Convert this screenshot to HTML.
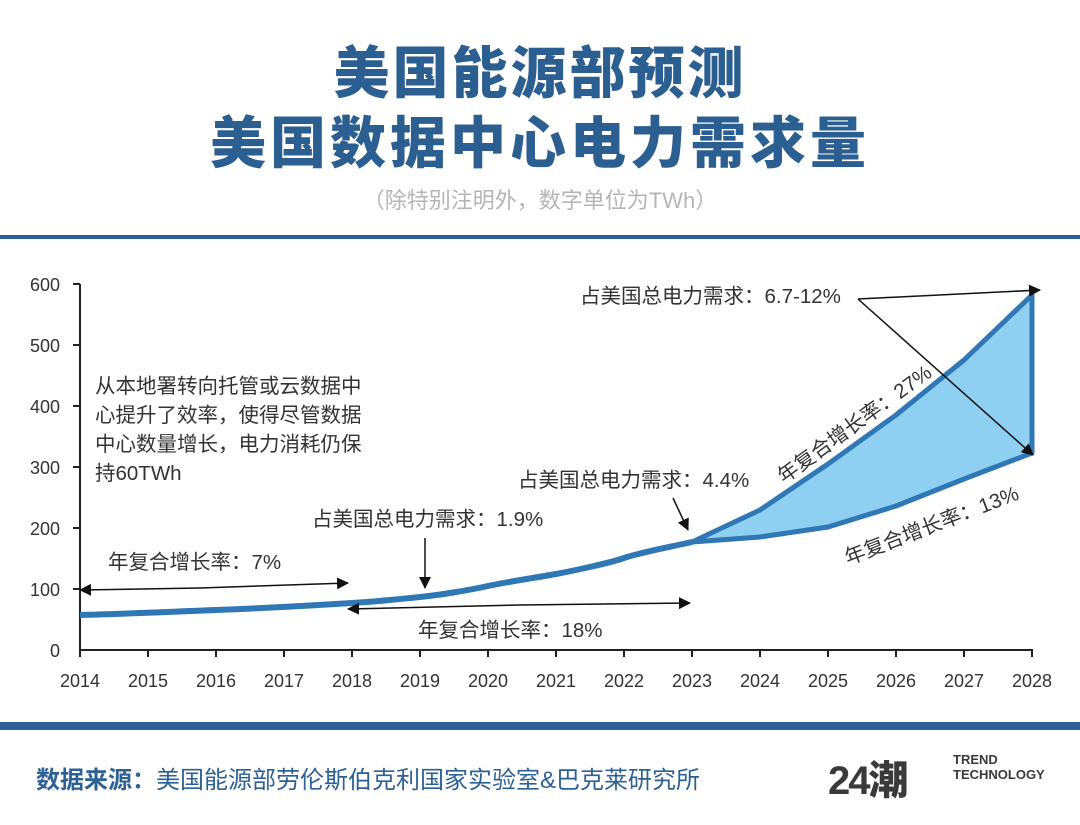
<!DOCTYPE html>
<html><head><meta charset="utf-8"><style>
body{margin:0;width:1080px;height:825px;background:#fff;font-family:"Liberation Sans","Noto Sans CJK SC",sans-serif;overflow:hidden;position:relative}
.t{position:absolute;left:0;width:1080px;text-align:center;color:#2c5f91;font-weight:900;line-height:1}
</style></head><body>
<div class="t" style="top:46px;font-size:56px;letter-spacing:3px">美国能源部预测</div>
<div class="t" style="top:116px;font-size:56px;letter-spacing:4px">美国数据中心电力需求量</div>
<div style="position:absolute;top:183px;left:0;width:1080px;text-align:center;color:#b5b5b5;font-size:22px">（除特别注明外，数字单位为TWh）</div>
<div style="position:absolute;top:235px;left:0;width:1080px;height:4px;background:#2d6196"></div>
<svg width="1080" height="825" style="position:absolute;left:0;top:0" font-family="Liberation Sans, Noto Sans CJK SC, sans-serif">
<defs><marker id="a" markerWidth="12" markerHeight="12" refX="11" refY="6" orient="auto" markerUnits="userSpaceOnUse" viewBox="0 0 12 12"><path d="M0,0L12,6L0,12z" fill="#111"/></marker></defs>
<g stroke="#222" stroke-width="2">
<line x1="80" y1="284" x2="80" y2="651"/><line x1="79" y1="650" x2="1033" y2="650"/>
<line x1="73" y1="284" x2="80" y2="284"/><line x1="73" y1="345" x2="80" y2="345"/><line x1="73" y1="406" x2="80" y2="406"/><line x1="73" y1="467" x2="80" y2="467"/><line x1="73" y1="528" x2="80" y2="528"/><line x1="73" y1="589" x2="80" y2="589"/>
</g>
<g stroke="#222" stroke-width="2">
<line x1="80" y1="650" x2="80" y2="657"/><line x1="148" y1="650" x2="148" y2="657"/><line x1="216" y1="650" x2="216" y2="657"/><line x1="284" y1="650" x2="284" y2="657"/><line x1="352" y1="650" x2="352" y2="657"/><line x1="420" y1="650" x2="420" y2="657"/><line x1="488" y1="650" x2="488" y2="657"/><line x1="556" y1="650" x2="556" y2="657"/><line x1="624" y1="650" x2="624" y2="657"/><line x1="692" y1="650" x2="692" y2="657"/><line x1="760" y1="650" x2="760" y2="657"/><line x1="828" y1="650" x2="828" y2="657"/><line x1="896" y1="650" x2="896" y2="657"/><line x1="964" y1="650" x2="964" y2="657"/><line x1="1032" y1="650" x2="1032" y2="657"/>
</g>
<g font-size="18" fill="#333" text-anchor="end">
<text x="60" y="291">600</text><text x="60" y="352">500</text><text x="60" y="413">400</text><text x="60" y="474">300</text><text x="60" y="535">200</text><text x="60" y="596">100</text><text x="60" y="657">0</text>
</g>
<g font-size="18" fill="#333" text-anchor="middle">
<text x="80" y="687">2014</text><text x="148" y="687">2015</text><text x="216" y="687">2016</text><text x="284" y="687">2017</text><text x="352" y="687">2018</text><text x="420" y="687">2019</text><text x="488" y="687">2020</text><text x="556" y="687">2021</text><text x="624" y="687">2022</text><text x="692" y="687">2023</text><text x="760" y="687">2024</text><text x="828" y="687">2025</text><text x="896" y="687">2026</text><text x="964" y="687">2027</text><text x="1032" y="687">2028</text>
</g>
<path d="M692,542 L760,510 L828,464 L896,415 L964,360 L1032,295 L1032,453 L964,479 L896,506 L828,527 L760,537 Z" fill="#8fd0f2" stroke="#2f78b5" stroke-width="5" stroke-linejoin="round"/>
<path d="M80,615 C120,614 140,613 216,610 S320,605 352,603 S400,599 420,597 S470,590 488,586 S540,577 556,574 S610,563 624,558 S670,547 692,542" fill="none" stroke="#2f78b5" stroke-width="6"/>
<g stroke="#111" stroke-width="1.5" fill="none" marker-end="url(#a)">
<line x1="200" y1="588" x2="80" y2="590"/><line x1="200" y1="588" x2="348" y2="583"/>
<line x1="520" y1="605" x2="348" y2="609"/><line x1="520" y1="605" x2="690" y2="603"/>
<line x1="425" y1="538" x2="425" y2="588"/>
<line x1="673" y1="498" x2="688" y2="530"/>
<line x1="858" y1="299" x2="1040" y2="290"/>
<line x1="858" y1="299" x2="1033" y2="455"/>
</g>
<g font-size="20.5" fill="#333">
<text x="108" y="569">年复合增长率：7%</text>
<text x="418" y="637">年复合增长率：18%</text>
<text x="312" y="526">占美国总电力需求：1.9%</text>
<text x="518" y="487">占美国总电力需求：4.4%</text>
<text x="580" y="303">占美国总电力需求：6.7-12%</text>
<text x="95" y="393">从本地署转向托管或云数据中</text>
<text x="95" y="422">心提升了效率，使得尽管数据</text>
<text x="95" y="451">中心数量增长，电力消耗仍保</text>
<text x="95" y="480">持60TWh</text>
<text transform="translate(784,484) rotate(-36)">年复合增长率：27%</text>
<text transform="translate(848,565) rotate(-21)">年复合增长率：13%</text>
</g>
</svg>
<div style="position:absolute;top:760px;left:36px;font-size:24px;color:#2d6196;white-space:nowrap"><b>数据来源：</b>美国能源部劳伦斯伯克利国家实验室&amp;巴克莱研究所</div>
<div style="position:absolute;top:722px;left:0;width:1080px;height:8px;background:#2d6196"></div>
<div style="position:absolute;top:748px;left:828px;font-size:40px;font-weight:900;color:#3a3a3a;letter-spacing:-2px">24潮</div>
<div style="position:absolute;top:752px;left:953px;font-size:13px;font-weight:bold;color:#3a3a3a;line-height:15px">TREND<br>TECHNOLOGY</div>
</body></html>
